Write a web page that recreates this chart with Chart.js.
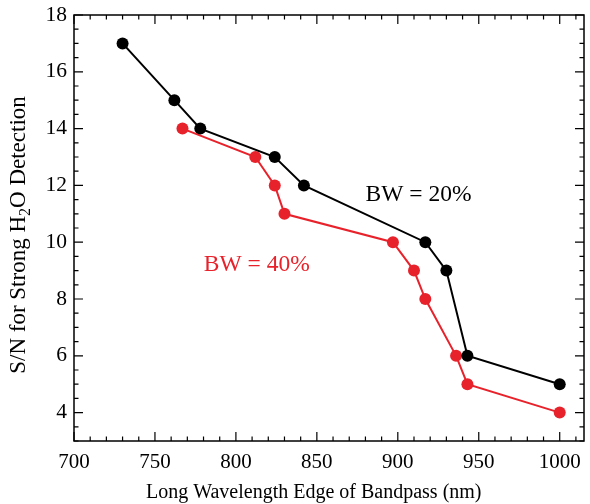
<!DOCTYPE html>
<html><head><meta charset="utf-8">
<script src="https://cdn.jsdelivr.net/npm/chart.js@4"></script>
<style>html,body{margin:0;padding:0;background:#fff}canvas{display:block}</style>
</head><body>
<canvas id="c" width="590" height="504"></canvas>
<script>
const xTicks = [700, 750, 800, 850, 900, 950, 1000];
const yTicks = [4, 6, 8, 10, 12, 14, 16, 18];
const bw20X = [730, 762, 778, 824, 842, 917, 930, 943, 1000];
const bw20Y = [17, 15, 14, 13, 12, 10, 9, 6, 5];
const bw40X = [767, 812, 824, 830, 897, 910, 917, 936, 943, 1000];
const bw40Y = [14, 13, 12, 11, 10, 9, 8, 6, 5, 4];
const labels = ["BW = 20%", "BW = 40%"];
const xTitle = "Long Wavelength Edge of Bandpass (nm)";
const yTitleParts = ["S/N for Strong H", "2", "O Detection"];

const RED = '#e8222b';
const FONT = '"Liberation Serif", "Times New Roman", serif';

function pts(xs, ys) { return xs.map((x, i) => ({x: x, y: ys[i]})); }

const framePlugin = {
  id: 'frame',
  afterDatasetsDraw(chart) {
    const {ctx, chartArea: a, scales: {x, y}} = chart;
    ctx.save();
    ctx.strokeStyle = '#000';
    ctx.lineWidth = 1.5;
    ctx.strokeRect(a.left, a.top, a.right - a.left, a.bottom - a.top);
    ctx.lineWidth = 1.2;
    ctx.beginPath();
    for (let v = 700; v <= 1015; v += 10) {
      const px = x.getPixelForValue(v);
      const len = (v % 50 === 0) ? 9 : 4.5;
      ctx.moveTo(px, a.bottom); ctx.lineTo(px, a.bottom - len);
      ctx.moveTo(px, a.top); ctx.lineTo(px, a.top + len);
    }
    for (let v = 3; v <= 18.01; v += 0.5) {
      const py = y.getPixelForValue(v);
      const len = (Math.abs(v % 2) < 1e-6) ? 9 : 4.5;
      ctx.moveTo(a.left, py); ctx.lineTo(a.left + len, py);
      ctx.moveTo(a.right, py); ctx.lineTo(a.right - len, py);
    }
    ctx.stroke();

    // annotations
    ctx.font = '23.5px ' + FONT;
    ctx.textAlign = 'center';
    ctx.textBaseline = 'alphabetic';
    ctx.fillStyle = '#000';
    ctx.fillText(labels[0], x.getPixelForValue(912.8), y.getPixelForValue(11.45));
    ctx.fillStyle = RED;
    ctx.fillText(labels[1], x.getPixelForValue(812.9), y.getPixelForValue(8.98));

    // x title
    ctx.fillStyle = '#000';
    ctx.font = '20px ' + FONT;
    ctx.textAlign = 'left';
    ctx.fillText(xTitle, 146, 498);

    // y title with subscript
    ctx.translate(25, 235);
    ctx.rotate(-Math.PI / 2);
    const big = '23px ' + FONT, small = '16px ' + FONT;
    ctx.font = big; const w1 = ctx.measureText(yTitleParts[0]).width;
    const w3 = ctx.measureText(yTitleParts[2]).width;
    ctx.font = small; const w2 = ctx.measureText(yTitleParts[1]).width;
    let sx = -(w1 + w2 + w3) / 2;
    ctx.font = big; ctx.fillText(yTitleParts[0], sx, 0); sx += w1;
    ctx.font = small; ctx.fillText(yTitleParts[1], sx, 5); sx += w2;
    ctx.font = big; ctx.fillText(yTitleParts[2], sx, 0);
    ctx.restore();
  }
};

new Chart(document.getElementById('c'), {
  type: 'scatter',
  data: {
    datasets: [
      {label: labels[0], data: pts(bw20X, bw20Y), showLine: true, borderColor: '#000', backgroundColor: '#000',
       borderWidth: 2, pointRadius: 6, pointBorderWidth: 0, pointHoverRadius: 6},
      {label: labels[1], data: pts(bw40X, bw40Y), showLine: true, borderColor: RED, backgroundColor: RED,
       borderWidth: 2, pointRadius: 6, pointBorderWidth: 0, pointHoverRadius: 6}
    ]
  },
  options: {
    responsive: false,
    animation: false,
    devicePixelRatio: 1,
    layout: {padding: {top: 15, right: 5, left: 0, bottom: 0}},
    plugins: {legend: {display: false}, tooltip: {enabled: false}},
    scales: {
      x: {
        type: 'linear', min: 700, max: 1015,
        afterBuildTicks: s => { s.ticks = xTicks.map(v => ({value: v})); },
        afterFit: s => { s.height = 63; s.paddingLeft = 0; s.paddingRight = 0; },
        grid: {display: false, drawTicks: false},
        border: {display: false},
        ticks: {color: '#000', font: {family: FONT, size: 21}, padding: 9, maxRotation: 0, autoSkip: false,
                callback: v => String(v)}
      },
      y: {
        type: 'linear', min: 3, max: 18,
        afterBuildTicks: s => { s.ticks = yTicks.map(v => ({value: v})); },
        afterFit: s => { s.width = 74; s.paddingTop = 0; s.paddingBottom = 0; },
        grid: {display: false, drawTicks: false},
        border: {display: false},
        ticks: {color: '#000', font: {family: FONT, size: 21.5}, padding: 7, autoSkip: false,
                callback: v => String(v)}
      }
    }
  },
  plugins: [framePlugin]
});
</script>
</body></html>
